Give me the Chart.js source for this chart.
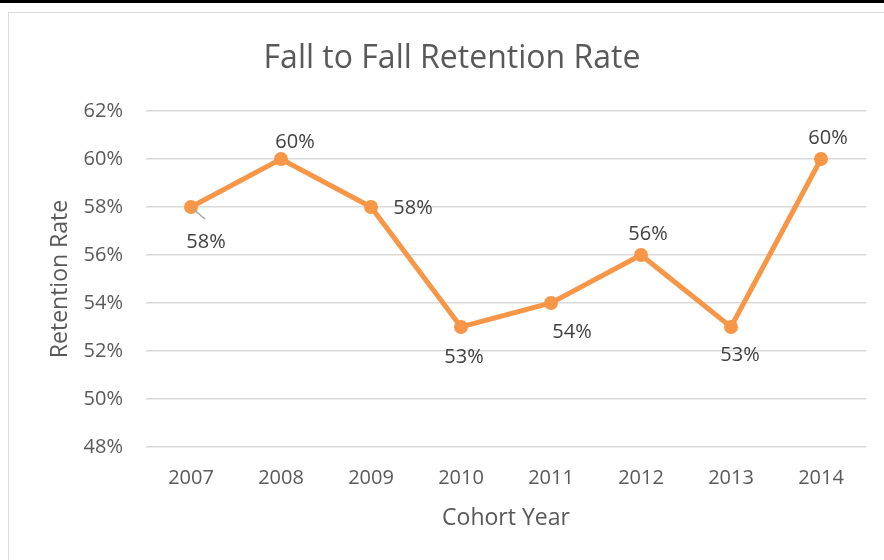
<!DOCTYPE html>
<html>
<head>
<meta charset="utf-8">
<script src="https://cdn.jsdelivr.net/npm/chart.js@4"></script>
<style>
  html, body { margin: 0; padding: 0; background: #fff; }
  #wrap { position: relative; width: 884px; height: 560px; overflow: hidden; }
  #topbar { position: absolute; left: 0; top: 0; width: 884px; height: 3px; background: #000; }
  #frame { position: absolute; left: 8px; top: 12px; width: 900px; height: 600px; border: 1px solid #d9d9d9; }
  #chart { position: absolute; left: 0; top: 0; }
</style>
</head>
<body>
<div id="wrap">
  <div id="topbar"></div>
  <div id="frame"></div>
  <canvas id="chart" width="884" height="560"></canvas>
</div>
<script>
const years = ['2007', '2008', '2009', '2010', '2011', '2012', '2013', '2014'];
const retention = [58, 60, 58, 53, 54, 56, 53, 60];
const yTicks = [48, 50, 52, 54, 56, 58, 60, 62];
const chartTitle = 'Fall to Fall Retention Rate';

const textColor = '#595959';
const lineColor = '#F79646';
const fontFamily = '"Open Sans", sans-serif';

// label placement next to each point (dx, dy in px), like the hand-moved Excel labels
const labelOffsets = [[15, 35], [14, -17], [42, 1], [3, 30], [21, 29], [7, -21], [9, 28], [7, -21]];

// title drawn by hand so it sits centred on the chart frame, not the canvas
const titleDraw = {
  id: 'titleDraw',
  afterDraw(chart) {
    const ctx = chart.ctx;
    ctx.save();
    ctx.font = '32px ' + fontFamily;
    ctx.fillStyle = textColor;
    ctx.textAlign = 'center';
    ctx.textBaseline = 'middle';
    ctx.fillText(chartTitle, 452, 59);
    ctx.restore();
  }
};

const pointLabels = {
  id: 'pointLabels',
  afterDatasetsDraw(chart) {
    const ctx = chart.ctx;
    const meta = chart.getDatasetMeta(0);
    ctx.save();
    ctx.font = '20px ' + fontFamily;
    ctx.fillStyle = '#404040';
    ctx.textAlign = 'center';
    ctx.textBaseline = 'middle';
    meta.data.forEach((pt, i) => {
      const [dx, dy] = labelOffsets[i];
      if (i === 0) {
        // leader line for the first label
        ctx.strokeStyle = '#a6a6a6';
        ctx.lineWidth = 1.5;
        ctx.beginPath();
        ctx.moveTo(pt.x + 2, pt.y + 2);
        ctx.lineTo(pt.x + 14, pt.y + 12);
        ctx.stroke();
      }
      ctx.fillText(retention[i] + '%', pt.x + dx, pt.y + dy);
    });
    ctx.restore();
  }
};

new Chart(document.getElementById('chart'), {
  type: 'line',
  data: {
    labels: years,
    datasets: [{
      data: retention,
      borderColor: lineColor,
      backgroundColor: lineColor,
      borderWidth: 5,
      pointRadius: 7,
      pointBackgroundColor: lineColor,
      pointBorderWidth: 0,
      tension: 0
    }]
  },
  options: {
    responsive: false,
    animation: false,
    layout: { padding: { left: 0, right: 18, top: 111, bottom: 0 } },
    plugins: {
      legend: { display: false },
      tooltip: { enabled: false },
      title: { display: false }
    },
    scales: {
      x: {
        offset: true,
        grid: { display: false, drawTicks: false },
        border: { display: false },
        ticks: { color: textColor, font: { family: fontFamily, size: 20 }, padding: 19, maxRotation: 0 },
        title: {
          display: true,
          text: 'Cohort Year',
          color: textColor,
          font: { family: fontFamily, size: 23 },
          padding: { top: 0, bottom: 28 }
        },
        afterFit(scale) { scale.height = 113; }
      },
      y: {
        min: 48,
        max: 62,
        afterBuildTicks(scale) { scale.ticks = yTicks.map(v => ({ value: v })); },
        grid: { color: '#d9d9d9', lineWidth: 1.5, drawTicks: false },
        border: { display: false },
        ticks: {
          color: textColor,
          font: { family: fontFamily, size: 20 },
          padding: 23,
          callback: v => v + '%'
        },
        title: {
          display: true,
          text: 'Retention Rate',
          color: textColor,
          font: { family: fontFamily, size: 23 },
          padding: { top: 47, bottom: 0 }
        },
        afterFit(scale) { scale.width = 146; }
      }
    }
  },
  plugins: [pointLabels, titleDraw]
});
</script>
</body>
</html>
